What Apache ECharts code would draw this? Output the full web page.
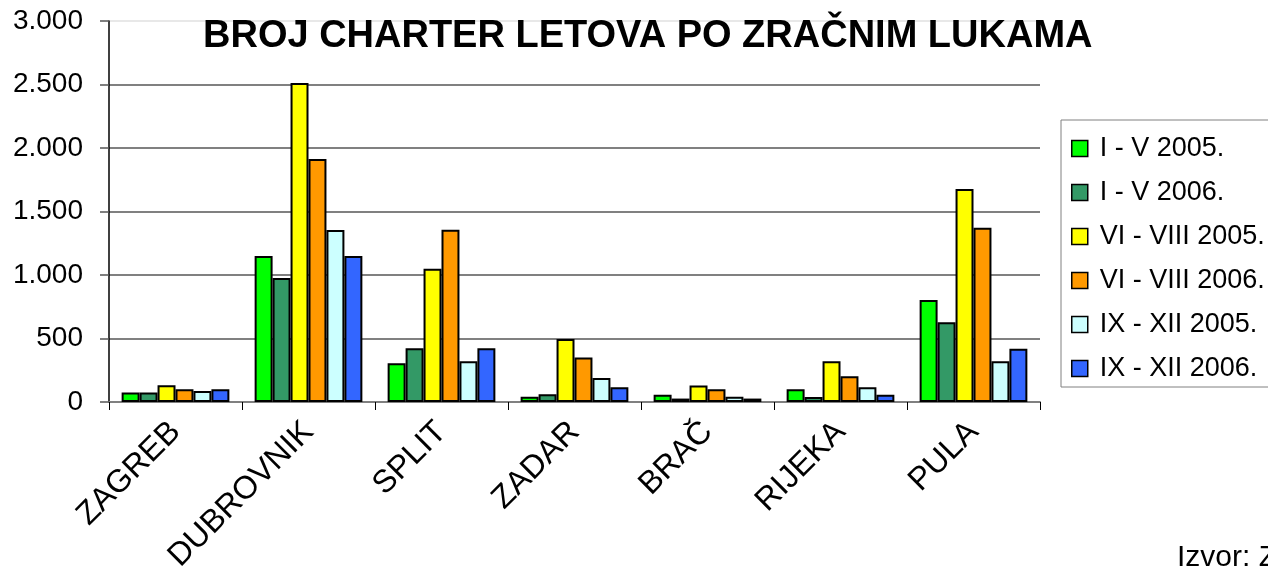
<!DOCTYPE html>
<html>
<head>
<meta charset="utf-8">
<script src="https://cdn.jsdelivr.net/npm/echarts@6/dist/echarts.min.js"></script>
<style>
html,body{margin:0;padding:0;background:#fff;}
#chart{width:1268px;height:569px;}
</style>
</head>
<body>
<div id="chart"></div>
<script>
const categories = ['ZAGREB', 'DUBROVNIK', 'SPLIT', 'ZADAR', 'BRAČ', 'RIJEKA', 'PULA'];
const seriesNames = ['I - V 2005.', 'I - V 2006.', 'VI - VIII 2005.', 'VI - VIII 2006.', 'IX - XII 2005.', 'IX - XII 2006.'];
const iv2005 = [74, 1150, 305, 42, 58, 100, 803];
const iv2006 = [74, 976, 423, 61, 27, 39, 628];
const viviii2005 = [131, 2512, 1050, 496, 129, 320, 1677];
const viviii2006 = [100, 1913, 1357, 350, 100, 202, 1373];
const ixxii2005 = [87, 1354, 320, 189, 42, 116, 320];
const ixxii2006 = [100, 1150, 423, 116, 27, 58, 420];
const seriesColors = ['#00FF00', '#339966', '#FFFF00', '#FF9900', '#CCFFFF', '#3366FF'];
const titleText = 'BROJ CHARTER LETOVA PO ZRAČNIM LUKAMA';
const sourceText = 'Izvor: Zračne luke';

const allData = [iv2005, iv2006, viviii2005, viviii2006, ixxii2005, ixxii2006];
const FONT = "'Liberation Sans', Arial, sans-serif";

const chart = echarts.init(document.getElementById('chart'));
const series = allData.map((d, i) => ({
  name: seriesNames[i],
  type: 'bar',
  data: d,
  barGap: '0%',
  barCategoryGap: '19%',
  itemStyle: { color: seriesColors[i], borderColor: '#000', borderWidth: 2 },
  emphasis: { disabled: true }
}));

chart.setOption({
  animation: false,
  textStyle: { fontFamily: FONT, color: '#000' },
  grid: { left: 109, right: 228, top: 21, bottom: 167, outerBoundsMode: 'none', containLabel: false },
  legend: {
    orient: 'vertical',
    left: 1061,
    top: 120,
    padding: [15, 40, 5, 10],
    itemWidth: 16,
    itemHeight: 16,
    itemGap: 17,
    borderColor: '#808080',
    borderWidth: 1,
    icon: 'rect',
    itemStyle: { borderColor: '#000', borderWidth: 1.5 },
    textStyle: { fontFamily: FONT, fontSize: 27, color: '#000', padding: [0, 0, 0, 7] },
    data: seriesNames
  },
  xAxis: {
    type: 'category',
    data: categories,
    boundaryGap: true,
    axisLine: { lineStyle: { color: '#808080', width: 2 } },
    axisTick: { show: true, length: 8, lineStyle: { color: '#000', width: 1 } },
    axisLabel: { rotate: 45, margin: 25, fontSize: 32, color: '#000', fontFamily: FONT, interval: 0 }
  },
  yAxis: {
    type: 'value',
    min: 0,
    max: 3000,
    interval: 500,
    axisLine: { show: true, lineStyle: { color: '#000', width: 1.5 } },
    axisTick: { show: true, length: 9, lineStyle: { color: '#555', width: 1.5 } },
    axisLabel: {
      margin: 26, fontSize: 28, color: '#000', fontFamily: FONT,
      formatter: v => String(v).replace(/\B(?=(\d{3})+(?!\d))/g, '.')
    },
    splitLine: { show: true, lineStyle: { color: ['#e8e8e8', '#808080', '#808080', '#808080', '#808080', '#808080', '#e8e8e8'], width: 2 } }
  },
  graphic: [
    {
      type: 'text', left: 203, top: 18, z: 100,
      style: { text: titleText, fontFamily: FONT, fontSize: 38, fontWeight: 'bold', fill: '#000' }
    },
    {
      type: 'text', left: 1177, top: 543, z: 100,
      style: { text: sourceText, fontFamily: FONT, fontSize: 30, fill: '#000' }
    }
  ],
  series: series
});
</script>
</body>
</html>
